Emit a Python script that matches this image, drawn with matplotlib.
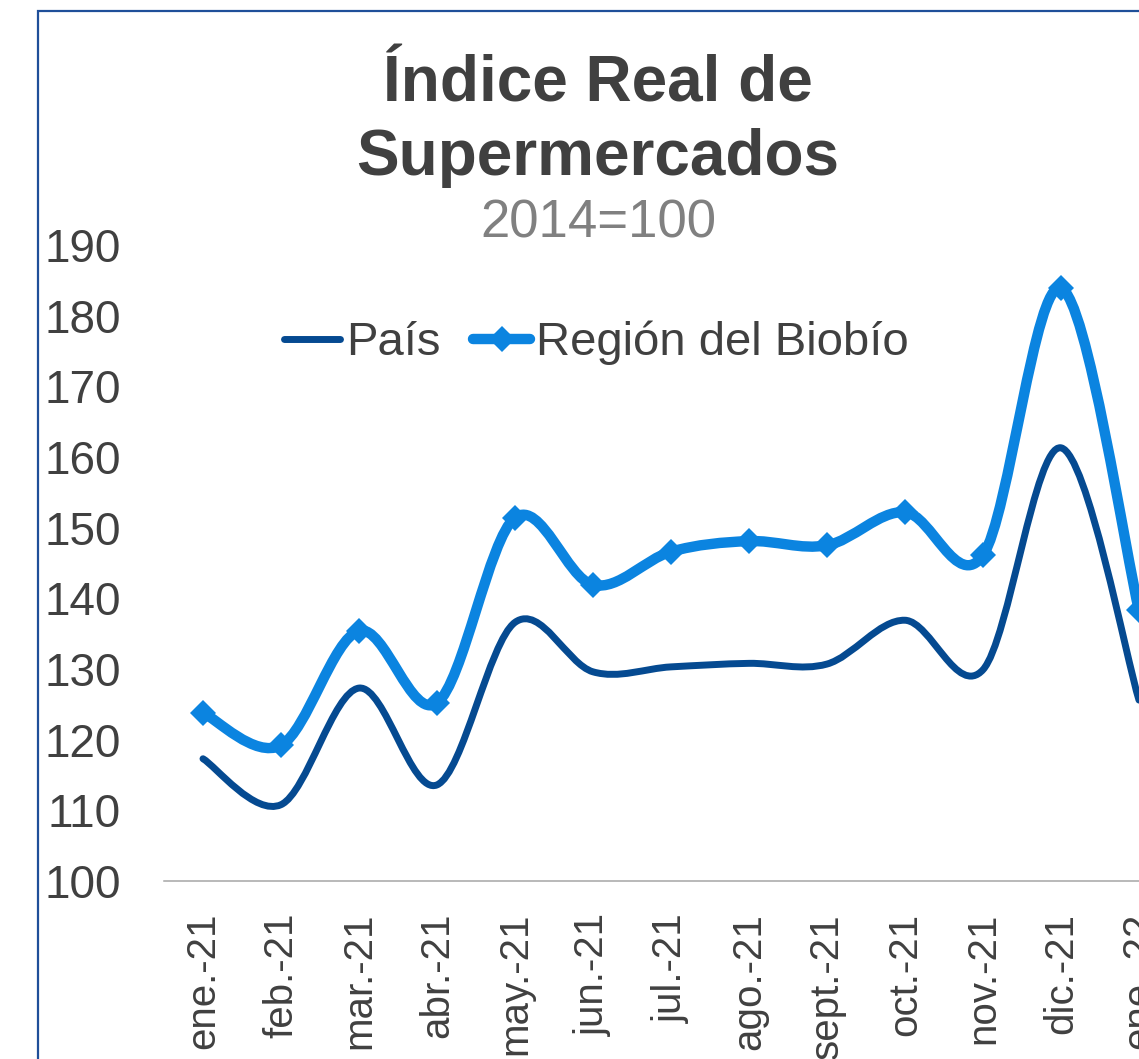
import numpy as np
import matplotlib
matplotlib.use("Agg")
import matplotlib.pyplot as plt
from matplotlib.path import Path
from matplotlib.patches import PathPatch, Rectangle
from matplotlib.lines import Line2D

plt.rcParams["font.family"] = ["Liberation Sans", "DejaVu Sans"]

# ─── datos ───────────────────────────────────────────────────────────
meses = ["ene.-21", "feb.-21", "mar.-21", "abr.-21", "may.-21", "jun.-21",
         "jul.-21", "ago.-21", "sept.-21", "oct.-21", "nov.-21", "dic.-21",
         "ene.-22"]
pais = [117.3, 110.8, 127.3, 113.6, 136.6, 129.6, 130.3, 130.8, 130.7,
        136.9, 129.9, 161.3, 125.6]
biobio = [123.8, 119.2, 135.4, 125.2, 151.4, 141.9, 146.6, 148.1, 147.5,
          152.2, 146.1, 183.9, 138.3]
yticks = [100, 110, 120, 130, 140, 150, 160, 170, 180, 190]

C_PAIS = "#054A91"
C_BIO = "#0B84E0"
C_TXT = "#404040"


def smooth_path(xs, ys):
    # curva suavizada tipo Excel (Bezier cúbica, Catmull-Rom 1/6)
    p = np.column_stack([xs, ys]).astype(float)
    n = len(p)
    verts = [p[0]]
    codes = [Path.MOVETO]
    for i in range(n - 1):
        p0 = p[i - 1] if i > 0 else p[i]
        p3 = p[i + 2] if i + 2 < n else p[i + 1]
        c1 = p[i] + (p[i + 1] - p0) / 6.0
        c2 = p[i + 1] - (p3 - p[i]) / 6.0
        verts += [c1, c2, p[i + 1]]
        codes += [Path.CURVE4] * 3
    return Path(verts, codes)


W, H = 1139, 1059
fig = plt.figure(figsize=(W / 100, H / 100), dpi=100)

# marco del gráfico (recortado a la derecha y abajo)
fig.patches.append(Rectangle((38 / W, -0.05), 1.2, 1 - 11 / H + 0.05,
                             transform=fig.transFigure, fill=False,
                             edgecolor="#1F4F99", linewidth=1.6))

ax = fig.add_axes([164 / W, 1 - 881 / H, 1 - 164 / W, (881 - 245) / H])
x = np.arange(len(meses))

ax.add_patch(PathPatch(smooth_path(x, pais), fill=False, edgecolor=C_PAIS,
                       linewidth=5, capstyle="round", joinstyle="round"))
ax.add_patch(PathPatch(smooth_path(x, biobio), fill=False, edgecolor=C_BIO,
                       linewidth=7.5, capstyle="round", joinstyle="round"))
ax.plot(x, biobio, linestyle="none", marker="D", markersize=13.5,
        color=C_BIO, markeredgewidth=0)

ax.set_xlim(-0.5, 12.0)
ax.set_ylim(100, 190)
ax.set_yticks(yticks)
ax.set_xticks(x)
ax.set_xticklabels(meses, rotation=90)
ax.tick_params(axis="y", length=0, pad=31, labelsize=33, labelcolor=C_TXT)
ax.tick_params(axis="x", length=0, pad=23, labelsize=29, labelcolor=C_TXT)
for s in ["top", "right", "left"]:
    ax.spines[s].set_visible(False)
ax.spines["bottom"].set_color("#A6A6A6")
ax.spines["bottom"].set_linewidth(1.1)

# ─── títulos ─────────────────────────────────────────────────────────
fig.text(598 / W, 1 - 102 / H, "Índice Real de", ha="center", va="baseline",
         fontsize=46, fontweight="bold", color=C_TXT)
fig.text(598 / W, 1 - 175 / H, "Supermercados", ha="center", va="baseline",
         fontsize=46, fontweight="bold", color=C_TXT)
fig.text(598 / W, 1 - 238 / H, "2014=100", ha="center", va="baseline",
         fontsize=38, color="#808080")

# ─── leyenda ─────────────────────────────────────────────────────────
handles = [
    Line2D([], [], color=C_PAIS, linewidth=5, solid_capstyle="round"),
    Line2D([], [], color=C_BIO, linewidth=7.5, marker="D", markersize=13.5,
           markeredgewidth=0, solid_capstyle="round"),
]
fig.legend(handles, ["País", "Región del Biobío"], loc="center",
           bbox_to_anchor=(596 / W, 1 - 343 / H), ncol=2, frameon=False,
           fontsize=34, handlelength=1.2, handletextpad=0.12,
           columnspacing=0.7, labelcolor=C_TXT, borderpad=0, borderaxespad=0)

fig.savefig("out.png", dpi=100)
